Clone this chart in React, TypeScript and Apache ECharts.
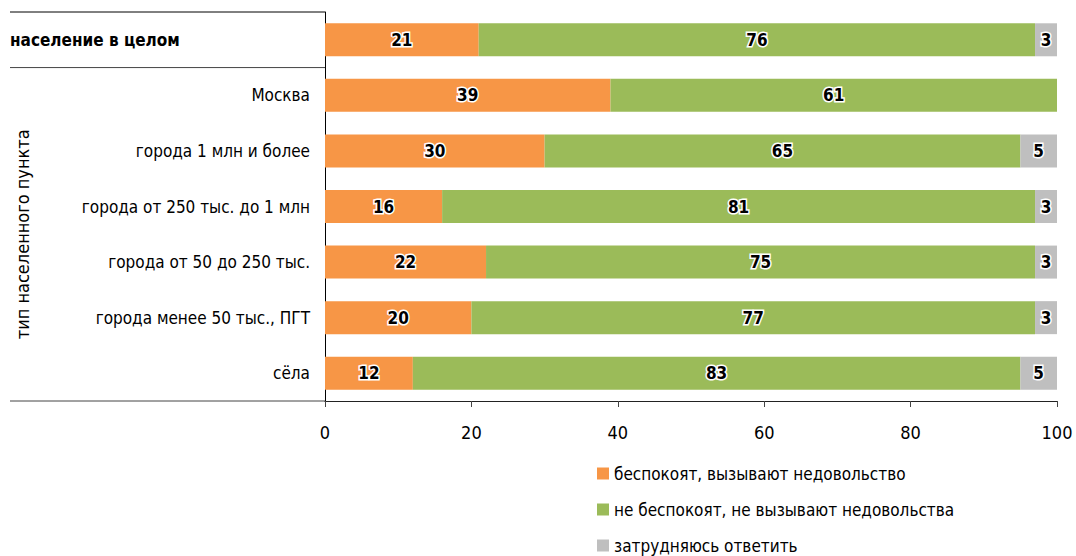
import React, { useEffect, useRef } from "react";
import * as echarts from "echarts";

const categories = [
  "население в целом",
  "Москва",
  "города 1 млн и более",
  "города от 250 тыс. до 1 млн",
  "города от 50 до 250 тыс.",
  "города менее 50 тыс., ПГТ",
  "сёла",
];
const worried = [21, 39, 30, 16, 22, 20, 12];
const notWorried = [76, 61, 65, 81, 75, 77, 83];
const hardToSay = [3, 0, 5, 3, 3, 3, 5];
const seriesNames = [
  "беспокоят, вызывают недовольство",
  "не беспокоят, не вызывают недовольства",
  "затрудняюсь ответить",
];
const colors = ["#F79646", "#9BBB59", "#BFBFBF"];
const axisTitle = "тип населенного пункта";
const xTicks = { min: 0, max: 100, interval: 20 };

const FONT = "'Liberation Sans Narrow', 'DejaVu Sans Condensed', Roboto, sans-serif";

export default function App() {
  const ref = useRef<HTMLDivElement>(null);
  useEffect(() => {
    if (!ref.current) return;
    const chart = echarts.init(ref.current, undefined, { renderer: "svg" });
    const mk = (name: string, data: number[], color: string) => ({
      name,
      type: "bar",
      stack: "total",
      barWidth: 33,
      data,
      itemStyle: { color },
      label: {
        show: true,
        position: "inside",
        formatter: (p: any) => (p.value ? String(p.value) : ""),
        color: "#000",
        fontSize: 17,
        fontWeight: "bold",
        fontFamily: FONT,
        textBorderColor: "#fff",
        textBorderWidth: 3,
      },
    });
    chart.setOption({
      animation: false,
      textStyle: { fontFamily: FONT },
      grid: { left: 325, right: 19, top: 12, bottom: 155, containLabel: false },
      xAxis: {
        type: "value",
        min: xTicks.min,
        max: xTicks.max,
        interval: xTicks.interval,
        axisLine: { show: true, lineStyle: { color: "#222", width: 1 } },
        axisTick: { show: true, length: 6, lineStyle: { color: "#444" } },
        splitLine: { show: false },
        axisLabel: { fontSize: 18, color: "#000", margin: 22, fontFamily: FONT },
      },
      yAxis: {
        type: "category",
        inverse: true,
        data: categories,
        axisLine: { show: true, lineStyle: { color: "#000", width: 1 } },
        axisTick: { show: false },
        axisLabel: {
          fontSize: 17,
          color: "#000",
          margin: 15,
          fontFamily: FONT,
          formatter: (v: string, i: number) => (i === 0 ? `{b|${v}}` : v),
          rich: {
            b: {
              fontWeight: "bold",
              fontSize: 17,
              width: 300,
              align: "left",
              color: "#000",
              fontFamily: FONT,
            },
          },
        },
      },
      legend: {
        orient: "vertical",
        left: 597,
        top: 465,
        height: 90,
        padding: 0,
        itemWidth: 12,
        itemHeight: 12,
        itemGap: 19,
        icon: "rect",
        textStyle: {
          fontSize: 17,
          lineHeight: 17,
          color: "#000",
          fontFamily: FONT,
        },
        data: seriesNames,
      },
      series: [
        mk(seriesNames[0], worried, colors[0]),
        mk(seriesNames[1], notWorried, colors[1]),
        mk(seriesNames[2], hardToSay, colors[2]),
      ],
    });
    // decorative divider lines and rotated group title, positioned from the axis scale
    const y0 = chart.convertToPixel({ yAxisIndex: 0 }, 0) as number;
    const y1 = chart.convertToPixel({ yAxisIndex: 0 }, 1) as number;
    const yLast = chart.convertToPixel({ yAxisIndex: 0 }, categories.length - 1) as number;
    const half = (y1 - y0) / 2;
    const xAxisPx = chart.convertToPixel({ xAxisIndex: 0 }, 0) as number;
    const top = y0 - half;
    const mid = y0 + half;
    const bottom = yLast + half;
    const lineStyle = { stroke: "#444", lineWidth: 1 };
    chart.setOption({
      graphic: [
        { type: "line", shape: { x1: 10, y1: top, x2: xAxisPx, y2: top }, style: { stroke: "#000", lineWidth: 1 } },
        { type: "line", shape: { x1: 10, y1: mid, x2: xAxisPx, y2: mid }, style: lineStyle },
        { type: "line", shape: { x1: 10, y1: bottom, x2: xAxisPx, y2: bottom }, style: lineStyle },
        {
          type: "text",
          x: 22,
          y: (mid + bottom) / 2,
          rotation: Math.PI / 2,
          style: {
            text: axisTitle,
            fontSize: 18,
            fontFamily: FONT,
            fill: "#000",
            align: "center",
            verticalAlign: "middle",
          },
        },
      ],
    });
    return () => chart.dispose();
  }, []);
  return (
    <div
      ref={ref}
      style={{ position: "fixed", left: 0, top: 0, width: 1076, height: 556, background: "#fff" }}
    />
  );
}
